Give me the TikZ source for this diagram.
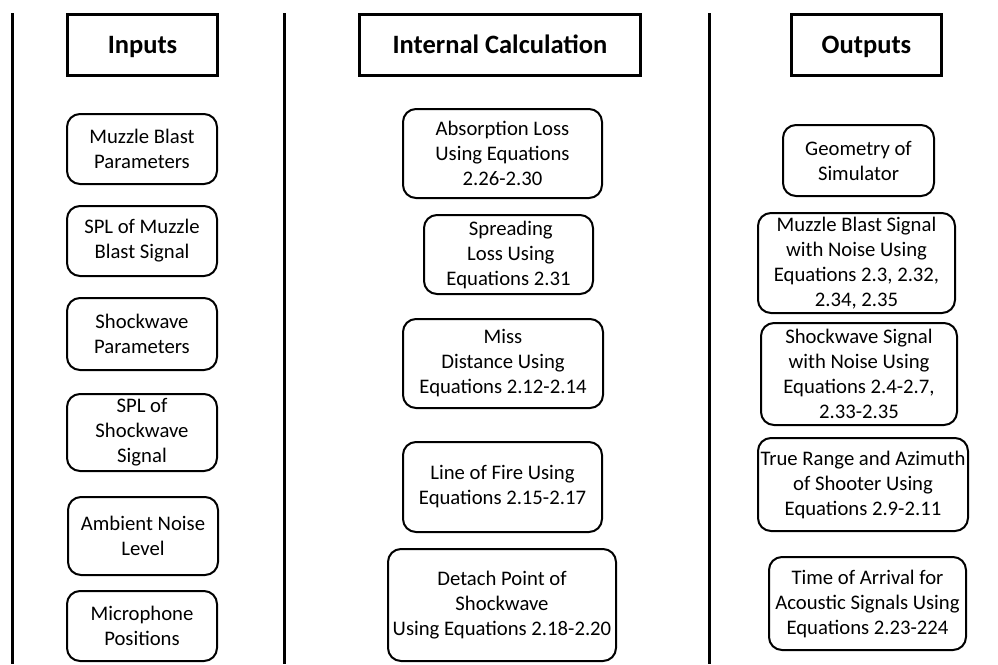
\documentclass[tikz,border=0pt]{standalone}
\usepackage{fontspec}
\setmainfont{Carlito}
\begin{document}
\begin{tikzpicture}[x=1pt,y=-1pt,
  head/.style={draw, line width=3pt, inner sep=0pt, align=center,
    text height=17pt, text depth=0pt,
    font=\fontsize{26.5}{30}\selectfont\bfseries},
  rbox/.style={draw, line width=2pt, rounded corners=13pt, inner sep=0pt,
    align=center, font=\fontsize{20.7}{25}\selectfont},
  divider/.style={line width=3pt}]
\useasboundingbox (0,0) rectangle (998,664);

% column dividers
\coordinate (d1t) at (12,13);  \coordinate (d1b) at (12,664);
\coordinate (d2t) at (284,13); \coordinate (d2b) at (284,664);
\coordinate (d3t) at (709,13); \coordinate (d3b) at (709,664);
\draw[divider] (d1t) -- (d1b);
\draw[divider] (d2t) -- (d2b);
\draw[divider] (d3t) -- (d3b);

% column headings
\node[head, minimum width=150pt, minimum height=61pt] (hin)  at (142.5,45) {Inputs};
\node[head, minimum width=281pt, minimum height=61pt] (hcal) at (500,45)   {Internal Calculation};
\node[head, minimum width=150pt, minimum height=61pt] (hout) at (866.5,45) {Outputs};

% inputs
\node[rbox, minimum width=150pt, minimum height=70pt] (i1) at (142,149)   {Muzzle Blast\\Parameters};
\node[rbox, minimum width=150pt, minimum height=70pt] (i2) at (142,241)   {SPL of Muzzle\\Blast Signal};
\node[rbox, minimum width=150pt, minimum height=72pt] (i3) at (142,334)   {Shockwave\\Parameters};
\node[rbox, minimum width=150pt, minimum height=77pt] (i4) at (142,432.5) {SPL of\\Shockwave\\Signal};
\node[rbox, minimum width=150pt, minimum height=78pt] (i5) at (143,536)   {Ambient Noise\\Level};
\node[rbox, minimum width=150pt, minimum height=70pt] (i6) at (142,626)   {Microphone\\Positions};

% internal calculation
\node[rbox, minimum width=199pt, minimum height=89pt]  (c1) at (502.5,153.5) {Absorption Loss\\Using Equations\\2.26-2.30};
\node[rbox, minimum width=169pt, minimum height=79pt]  (c2) at (508.5,254.5) {\ Spreading\\\ Loss Using\\Equations 2.31};
\node[rbox, minimum width=200pt, minimum height=89pt]  (c3) at (503,363.5)   {Miss\\Distance Using\\Equations 2.12-2.14};
\node[rbox, minimum width=199pt, minimum height=90pt]  (c4) at (502.5,487)   {Line of Fire Using\\Equations 2.15-2.17};
\node[rbox, minimum width=228pt, minimum height=112pt] (c5) at (502,605)     {Detach Point of\\Shockwave\\Using Equations 2.18-2.20};

% outputs
\node[rbox, minimum width=151pt, minimum height=71pt]  (o1) at (858.5,160.5) {Geometry of\\Simulator};
\node[rbox, minimum width=197pt, minimum height=100pt] (o2) at (856.5,263)   {Muzzle Blast Signal\\with Noise Using\\Equations 2.3, 2.32,\\2.34, 2.35};
\node[rbox, minimum width=196pt, minimum height=102pt] (o3) at (859,374)     {Shockwave Signal\\with Noise Using\\Equations 2.4-2.7,\\2.33-2.35};
\node[rbox, minimum width=210pt, minimum height=93pt]  (o4) at (863,484.5)   {True Range and Azimuth\\of Shooter Using\\Equations 2.9-2.11};
\node[rbox, minimum width=197pt, minimum height=93pt]  (o5) at (867.5,603.5) {Time of Arrival for\\Acoustic Signals Using\\Equations 2.23-224};
\end{tikzpicture}
\end{document}
